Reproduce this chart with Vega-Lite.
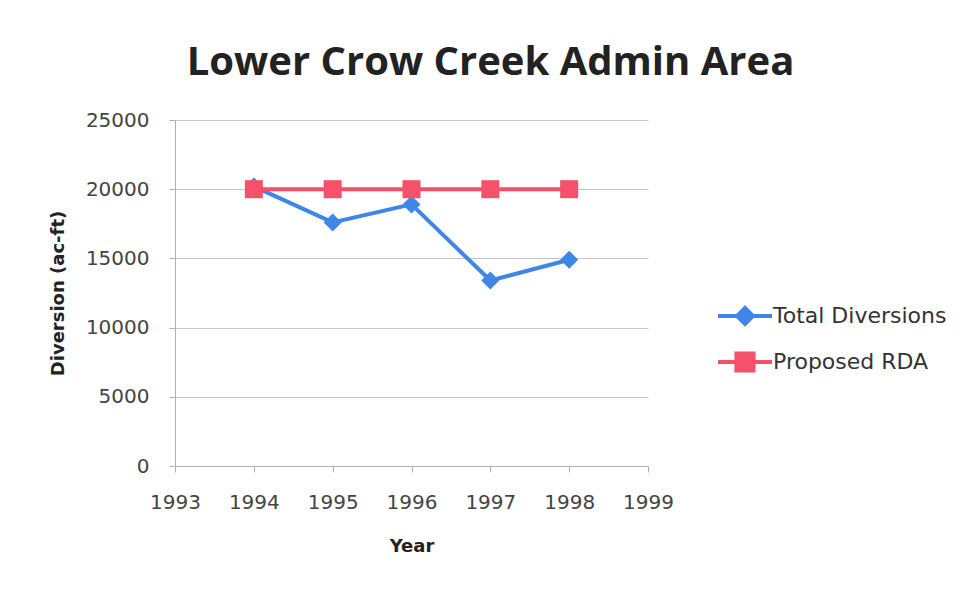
{
  "$schema": "https://vega.github.io/schema/vega-lite/v6.json",
  "width": 473,
  "height": 346,
  "autosize": "none",
  "padding": {"left": 175, "top": 120, "right": 320, "bottom": 123},
  "background": "white",
  "title": {
    "text": "Lower Crow Creek Admin Area",
    "font": "Open Sans",
    "fontSize": 40,
    "fontWeight": "bold",
    "color": "#222222",
    "anchor": "middle",
    "baseline": "alphabetic",
    "dx": 79,
    "offset": -5
  },
  "config": {
    "view": {"stroke": null},
    "axis": {
      "labelFont": "DejaVu Sans",
      "labelFontSize": 20,
      "labelColor": "#444444",
      "titleFont": "DejaVu Sans",
      "titleFontSize": 18,
      "titleFontWeight": "bold",
      "titleColor": "#222222",
      "domainColor": "#b0b0b0",
      "tickColor": "#b0b0b0",
      "gridColor": "#c4c4c4",
      "tickSize": 6
    }
  },
  "data": {
    "values": [
      {"year": 1994, "series": "Total Diversions", "value": 20200},
      {"year": 1995, "series": "Total Diversions", "value": 17600},
      {"year": 1996, "series": "Total Diversions", "value": 18900},
      {"year": 1997, "series": "Total Diversions", "value": 13400},
      {"year": 1998, "series": "Total Diversions", "value": 14900},
      {"year": 1994, "series": "Proposed RDA", "value": 20000},
      {"year": 1995, "series": "Proposed RDA", "value": 20000},
      {"year": 1996, "series": "Proposed RDA", "value": 20000},
      {"year": 1997, "series": "Proposed RDA", "value": 20000},
      {"year": 1998, "series": "Proposed RDA", "value": 20000}
    ]
  },
  "encoding": {
    "x": {
      "field": "year",
      "type": "quantitative",
      "title": "Year",
      "scale": {"domain": [1993, 1999], "nice": false, "zero": false},
      "axis": {
        "values": [1993, 1994, 1995, 1996, 1997, 1998, 1999],
        "format": "d",
        "grid": false,
        "labelFlush": false,
        "labelPadding": 20,
        "titlePadding": 25
      }
    },
    "y": {
      "field": "value",
      "type": "quantitative",
      "title": "Diversion (ac-ft)",
      "scale": {"domain": [0, 25000], "nice": false},
      "axis": {
        "values": [0, 5000, 10000, 15000, 20000, 25000],
        "format": "d",
        "grid": true,
        "labelPadding": 20,
        "titlePadding": 18
      }
    },
    "color": {
      "field": "series",
      "type": "nominal",
      "scale": {
        "domain": ["Total Diversions", "Proposed RDA"],
        "range": ["#3f86e8", "#f5516a"]
      }
    }
  },
  "layer": [
    {
      "mark": {"type": "line", "strokeWidth": 4},
      "encoding": {
        "color": {
          "field": "series",
          "type": "nominal",
          "scale": {
            "domain": ["Total Diversions", "Proposed RDA"],
            "range": ["#3f86e8", "#f5516a"]
          },
          "legend": {
            "title": null,
            "orient": "none",
            "legendX": 548,
            "legendY": 174,
            "padding": 0,
            "symbolSize": 1600,
            "symbolStrokeWidth": 4,
            "rowPadding": 8,
            "labelOffset": 6,
            "labelLimit": 400,
            "labelFont": "DejaVu Sans",
            "labelFontSize": 22,
            "labelColor": "#333333",
            "encode": {
              "symbols": {
                "update": {
                  "shape": {"signal": "datum.value === 'Total Diversions' ? 'M-1.35,0H1.35M0,-0.4L0.4,0L0,0.4L-0.4,0Z' : 'M-1.35,0H1.35M-0.43,-0.43H0.43V0.43H-0.43Z'"},
                  "fill": {"signal": "datum.value === 'Total Diversions' ? '#3f86e8' : '#f5516a'"},
                  "stroke": {"signal": "datum.value === 'Total Diversions' ? '#3f86e8' : '#f5516a'"},
                  "strokeWidth": {"value": 4},
                  "opacity": {"value": 1}
                }
              }
            }
          }
        }
      }
    },
    {
      "transform": [{"filter": "datum.series === 'Total Diversions'"}],
      "mark": {"type": "point", "filled": true, "opacity": 1, "shape": "diamond", "size": 324},
      "encoding": {
        "color": {
          "field": "series",
          "type": "nominal",
          "scale": {
            "domain": ["Total Diversions", "Proposed RDA"],
            "range": ["#3f86e8", "#f5516a"]
          },
          "legend": null
        }
      }
    },
    {
      "transform": [{"filter": "datum.series === 'Proposed RDA'"}],
      "mark": {"type": "point", "filled": true, "opacity": 1, "shape": "square", "size": 324},
      "encoding": {
        "color": {
          "field": "series",
          "type": "nominal",
          "scale": {
            "domain": ["Total Diversions", "Proposed RDA"],
            "range": ["#3f86e8", "#f5516a"]
          },
          "legend": null
        }
      }
    }
  ]
}
